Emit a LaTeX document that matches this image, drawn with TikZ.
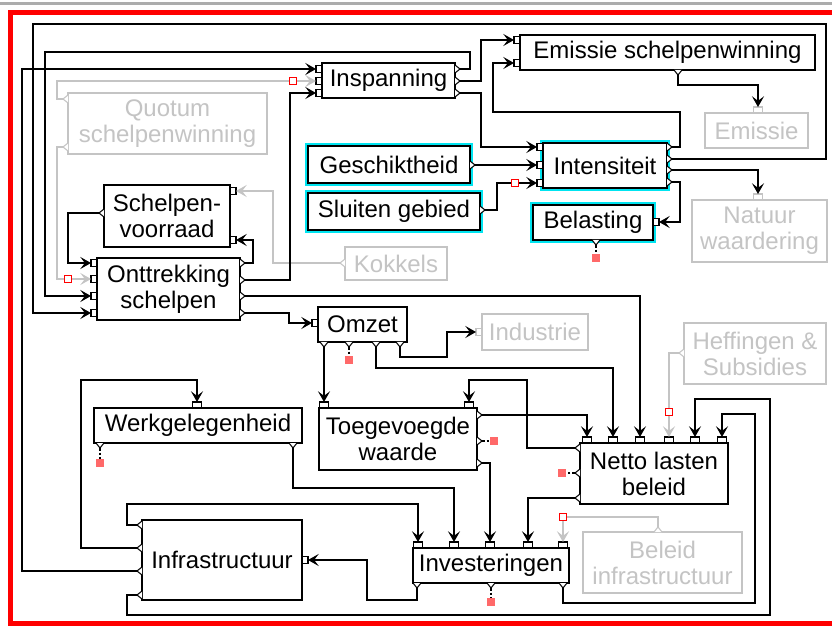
\documentclass[tikz,border=0pt]{standalone}
\usepackage{fontspec}
\setmainfont{Liberation Sans}
\usetikzlibrary{arrows.meta,fit}
\definecolor{ltgray}{RGB}{196,196,196}
\definecolor{glow}{RGB}{0,228,240}
\definecolor{markred}{RGB}{255,105,105}

% box from corner (x1,y1) to (x2,y2): style, name, x1, y1, x2, y2, text
\newcommand\mkbox[7]{\path (#3,#4) coordinate (#2-nw) (#5,#6) coordinate (#2-se);
  \node[#1, fit=(#2-nw)(#2-se)] (#2) {};
  \node[#1txt] (#2-label) at (#2.center) {#7};}
% input ports (small squares) and output ports (small triangles)
\newcommand\pinL[4][black]{\draw[port,draw=#1] (#3-6,#4-3.5) rectangle (#3,#4+3.5); \coordinate (#2) at (#3-6,#4);}
\newcommand\pinR[4][black]{\draw[port,draw=#1] (#3,#4-3.5) rectangle (#3+6,#4+3.5); \coordinate (#2) at (#3+6,#4);}
\newcommand\pinT[4][black]{\draw[port,draw=#1] (#3-4.5,#4-6) rectangle (#3+4.5,#4); \coordinate (#2) at (#3,#4-6);}
\newcommand\poutR[4][black]{\draw[port,draw=#1] (#3,#4-4) -- (#3+5,#4) -- (#3,#4+4); \coordinate (#2) at (#3+5,#4);}
\newcommand\poutL[4][black]{\draw[port,draw=#1] (#3,#4-4) -- (#3-5,#4) -- (#3,#4+4); \coordinate (#2) at (#3-5,#4);}
\newcommand\poutB[4][black]{\draw[port,draw=#1] (#3-4,#4) -- (#3,#4+5) -- (#3+4,#4); \coordinate (#2) at (#3,#4+5);}
\newcommand\poutT[4][black]{\draw[port,draw=#1] (#3-4,#4) -- (#3,#4-5) -- (#3+4,#4); \coordinate (#2) at (#3,#4-5);}

\tikzset{
  blk/.style={draw=black, line width=1.5pt, fill=white, inner sep=0pt},
  gblk/.style={blk, draw=ltgray, line width=1.2pt},
  cblk/.style={blk, preaction={draw=glow, line width=4pt}},
  blktxt/.style={inner sep=0pt, align=center, font=\fontsize{18}{19.5}\selectfont},
  cblktxt/.style={blktxt},
  gblktxt/.style={blktxt, text=ltgray},
  port/.style={draw=black, line width=0.8pt, fill=white},
  conn/.style={draw=black, line width=1.2pt},
  gconn/.style={conn, draw=ltgray},
  arr/.style={-{Stealth[length=8pt,width=9pt,inset=3.4pt]}},
  stub/.style={draw=black, line width=0.9pt, dash pattern=on 2pt off 1.5pt},
  redmark/.style={fill=markred, minimum size=6pt, inner sep=0pt},
  redsq/.style={draw=red, fill=white, line width=1pt, minimum size=5.5pt, inner sep=0pt},
}

\begin{document}
\begin{tikzpicture}[x=0.75pt,y=-0.75pt]
\useasboundingbox (0,0) rectangle (832,627);
\clip (0,0) rectangle (832,627);
\fill[white] (0,0) rectangle (832,627);
\fill[gray!65] (0,2.5) rectangle (832,5.5);
\draw[red, line width=3.75pt] (10.5,12.5) rectangle (870,623.5);

% ---- blocks ----
\mkbox{blk}{insp}{322}{63}{455}{98}{Inspanning}
\mkbox{blk}{emsw}{520}{35}{815}{70}{Emissie schelpenwinning}
\mkbox{gblk}{emis}{705}{113}{808}{148}{Emissie}
\mkbox{cblk}{inten}{543}{143}{667}{188}{Intensiteit}
\mkbox{cblk}{gesch}{308}{146}{470}{183}{Geschiktheid}
\mkbox{cblk}{sluit}{308}{193}{480}{230}{Sluiten gebied}
\mkbox{cblk}{belast}{533}{205}{653}{240}{Belasting}
\mkbox{gblk}{natuur}{692}{200}{827}{262}{Natuur\\waardering}
\mkbox{gblk}{quot}{68}{93}{267}{154}{Quotum\\schelpenwinning}
\mkbox{blk}{voorr}{104}{185}{230}{247}{Schelpen-\\voorraad}
\mkbox{blk}{onttr}{97}{258}{240}{320}{Onttrekking\\schelpen}
\mkbox{gblk}{kokk}{345}{247}{447}{280}{Kokkels}
\mkbox{blk}{omzet}{318}{307}{407}{342}{Omzet}
\mkbox{gblk}{indus}{482}{314}{588}{350}{Industrie}
\mkbox{gblk}{heff}{684}{323}{826}{384}{Heffingen \&\\Subsidies}
\mkbox{blk}{toeg}{319}{408}{477}{470}{Toegevoegde\\waarde}
\mkbox{blk}{werk}{94}{408}{302}{443}{Werkgelegenheid}
\mkbox{blk}{netto}{580}{443}{728}{504}{Netto lasten\\beleid}
\mkbox{blk}{inv}{413}{548}{569}{583}{Investeringen}
\mkbox{gblk}{belinf}{583}{532}{742}{593}{Beleid\\infrastructuur}
\mkbox{blk}{infra}{142}{520}{302}{600}{Infrastructuur}

% ---- ports ----
\pinL{insp-i1}{322}{69} \pinL{insp-i2}{322}{81} \pinL{insp-i3}{322}{93}
\poutR{insp-o1}{455}{69} \poutR{insp-o2}{455}{81} \poutR{insp-o3}{455}{93}
\pinL{emsw-i1}{520}{40} \pinL{emsw-i2}{520}{63} \poutB{emsw-o}{678}{70}
\pinT[ltgray]{emis-i}{758}{113}
\pinL{inten-i1}{543}{147} \pinL{inten-i2}{543}{165} \pinL{inten-i3}{543}{183}
\poutR{inten-o1}{667}{147} \poutR{inten-o2}{667}{159} \poutR{inten-o3}{667}{170} \poutR{inten-o4}{667}{182}
\poutR{gesch-o}{470}{165}
\poutR{sluit-o}{480}{210}
\pinR{belast-i}{653}{222} \poutB{belast-o}{596}{240}
\pinT[ltgray]{natuur-i}{758}{200}
\poutL[ltgray]{quot-o1}{68}{99} \poutL[ltgray]{quot-o2}{68}{147}
\pinR{voorr-i1}{230}{191} \pinR{voorr-i2}{230}{240} \poutL{voorr-o}{104}{213}
\pinL{onttr-i1}{97}{263} \pinL{onttr-i2}{97}{279} \pinL{onttr-i3}{97}{296} \pinL{onttr-i4}{97}{313}
\poutR{onttr-o1}{240}{263} \poutR{onttr-o2}{240}{280} \poutR{onttr-o3}{240}{296} \poutR{onttr-o4}{240}{313}
\poutL[ltgray]{kokk-o}{345}{263}
\pinL{omzet-i}{318}{323}
\poutB{omzet-o1}{324}{342} \poutB{omzet-o2}{349}{342} \poutB{omzet-o3}{376}{342} \poutB{omzet-o4}{400}{342}
\pinL[ltgray]{indus-i}{482}{332}
\poutL[ltgray]{heff-o}{684}{353}
\pinT{toeg-i1}{324}{408} \pinT{toeg-i2}{469}{408}
\poutR{toeg-o1}{477}{415} \poutR{toeg-o2}{477}{441} \poutR{toeg-o3}{477}{463}
\pinT{werk-i}{197}{408} \poutB{werk-o1}{100}{443} \poutB{werk-o2}{293}{443}
\pinT{netto-i1}{587}{443} \pinT{netto-i2}{613}{443} \pinT{netto-i3}{640}{443}
\pinT{netto-i4}{669}{443} \pinT{netto-i5}{695}{443} \pinT{netto-i6}{722}{443}
\poutL{netto-o1}{580}{448} \poutL{netto-o2}{580}{473} \poutL{netto-o3}{580}{498}
\pinT{inv-i1}{418}{548} \pinT{inv-i2}{454}{548} \pinT{inv-i3}{490}{548} \pinT{inv-i4}{528}{548} \pinT{inv-i5}{563}{548}
\poutB{inv-o1}{417}{583} \poutB{inv-o2}{491}{583} \poutB{inv-o3}{563}{583}
\poutT[ltgray]{belinf-o}{658}{532}
\pinR{infra-i}{302}{560}
\poutL{infra-o1}{142}{525} \poutL{infra-o2}{142}{548} \poutL{infra-o3}{142}{571} \poutL{infra-o4}{142}{595}

% ---- switches and sinks ----
\node[redsq] (rs1) at (293,81) {};
\node[redsq] (rs2) at (68,279) {};
\node[redsq] (rs3) at (563,517) {};
\node[redsq] (rs4) at (669,412) {};
\node[redsq] (rs5) at (515,183) {};
\node[redmark] (rm1) at (349,360) {};
\node[redmark] (rm2) at (494,441) {};
\node[redmark] (rm3) at (100,463) {};
\node[redmark] (rm4) at (491,602) {};
\node[redmark] (rm5) at (562,473) {};
\node[redmark] (rm6) at (596,258) {};

% ---- connections ----
\draw[conn,arr] (inten-o2) -| (826,24) -| (33,313) -- (onttr-i4);
\draw[conn,arr] (insp-o1) -| (470,52) -| (45,296) -- (onttr-i3);
\draw[conn,arr] (infra-o3) -| (22,69) -- (insp-i1);
\draw[gconn] (quot-o1) -| (57,81) -- (rs1);
\draw[gconn,arr] (rs1) -- (insp-i2);
\draw[gconn] (quot-o2) -| (57,279) -- (rs2);
\draw[gconn,arr] (rs2) -- (onttr-i2);
\draw[conn,arr] (voorr-o) -| (68,263) -- (onttr-i1);
\draw[conn,arr] (onttr-o1) -| (253,240) -- (voorr-i2);
\draw[gconn,arr] (kokk-o) -| (273,191) -- (voorr-i1);
\draw[conn,arr] (onttr-o2) -| (290,93) -- (insp-i3);
\draw[conn,arr] (onttr-o3) -| (netto-i3);
\draw[conn,arr] (onttr-o4) -| (289,323) -- (omzet-i);
\draw[conn,arr] (omzet-o1) -- (toeg-i1);
\draw[stub] (omzet-o2) -- (rm1);
\draw[conn,arr] (omzet-o3) |- (613,368) -- (netto-i2);
\draw[conn,arr] (omzet-o4) |- (447,357) |- (indus-i);
\draw[conn,arr] (netto-o1) -| (527,380) -| (toeg-i2);
\draw[conn,arr] (toeg-o1) -| (netto-i1);
\draw[stub] (toeg-o2) -- (rm2);
\draw[conn,arr] (toeg-o3) -| (inv-i3);
\draw[conn,arr] (werk-o2) |- (454,488) -- (inv-i2);
\draw[stub] (werk-o1) -- (rm3);
\draw[conn,arr] (infra-o1) -| (127,504) -| (inv-i1);
\draw[conn,arr] (netto-o3) -| (inv-i4);
\draw[gconn] (belinf-o) |- (rs3);
\draw[gconn,arr] (rs3) -- (inv-i5);
\draw[conn,arr] (inv-o1) |- (367,600) |- (infra-i);
\draw[stub] (inv-o2) -- (rm4);
\draw[conn,arr] (inv-o3) |- (755,603) |- (722,414) -- (netto-i6);
\draw[conn,arr] (infra-o4) -| (127,615) -| (770,399) -| (netto-i5);
\draw[gconn] (heff-o) -| (rs4);
\draw[gconn,arr] (rs4) -- (netto-i4);
\draw[stub] (netto-o2) -- (rm5);
\draw[conn,arr] (infra-o2) -| (81,380) -| (werk-i);
\draw[conn,arr] (insp-o2) -| (481,40) -- (emsw-i1);
\draw[conn,arr] (insp-o3) -| (481,147) -- (inten-i1);
\draw[conn,arr] (inten-o1) -| (680,112) -| (493,63) -- (emsw-i2);
\draw[conn,arr] (emsw-o) |- (758,85) -- (emis-i);
\draw[conn,arr] (inten-o3) -| (natuur-i);
\draw[conn,arr] (inten-o4) -| (680,222) -- (belast-i);
\draw[conn,arr] (gesch-o) -- (inten-i2);
\draw[conn] (sluit-o) -| (497,183) -- (rs5);
\draw[conn,arr] (rs5) -- (inten-i3);
\draw[stub] (belast-o) -- (rm6);
\end{tikzpicture}
\end{document}
